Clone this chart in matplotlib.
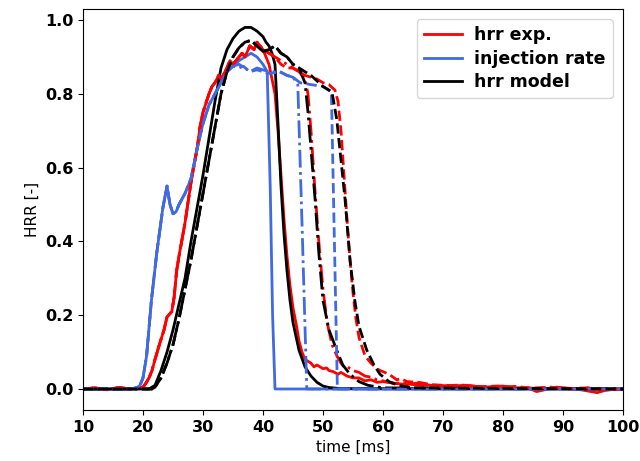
import matplotlib
matplotlib.use("Agg")
import matplotlib.pyplot as plt

# ---------------- data ----------------
# injection rate (blue) - shared rise
t_inj_rise = [10, 15, 18, 19, 19.5, 20, 20.6, 21.4, 22.3, 23.3, 24, 24.5, 25, 25.5, 26,
              27, 28, 29, 30, 31, 32, 33, 34, 35]
v_inj_rise = [0.0, 0.0, 0.0, 0.004, 0.01, 0.03, 0.09, 0.24, 0.37, 0.49, 0.55, 0.5, 0.475,
              0.48, 0.5, 0.53, 0.57, 0.65, 0.72, 0.77, 0.8, 0.83, 0.86, 0.875]
t_inj_end_1 = [36, 37, 38, 39, 40, 40.7, 41.2, 41.6, 42, 100]
v_inj_end_1 = [0.89, 0.9, 0.91, 0.9, 0.88, 0.86, 0.55, 0.2, 0.0, 0.0]
t_inj_end_2 = [36, 37, 37.8, 39, 40, 41, 42.8, 44, 45, 45.8, 46.5, 47.3, 100]
v_inj_end_2 = [0.88, 0.87, 0.86, 0.87, 0.865, 0.86, 0.86, 0.85, 0.845, 0.825, 0.45, 0.0, 0.0]
t_inj_end_3 = [36, 36.7, 37.8, 39, 40, 41, 42.8, 44, 45, 46.2, 48, 50, 51.4, 51.9, 52.4, 100]
v_inj_end_3 = [0.87, 0.875, 0.86, 0.865, 0.86, 0.855, 0.86, 0.85, 0.845, 0.83, 0.825, 0.82, 0.805, 0.4, 0.0, 0.0]

# hrr exp. (red) - shared rise
t_exp_rise = [10, 12, 14, 16, 18, 19, 20, 20.5, 21, 21.5, 22, 22.8, 23.5, 24, 24.8, 25.2,
              25.6, 26, 27, 28, 29, 29.5, 30, 31, 31.5, 32, 32.6, 33, 33.7, 34.5, 35, 36,
              36.5, 37, 37.8, 38.5, 39, 39.5, 40]
v_exp_rise = [0.0, 0.003, -0.002, 0.004, 0.0, 0.002, 0.005, 0.016, 0.03, 0.05, 0.08, 0.124,
              0.16, 0.195, 0.21, 0.25, 0.32, 0.36, 0.45, 0.56, 0.65, 0.71, 0.75, 0.8, 0.82,
              0.83, 0.85, 0.84, 0.86, 0.89, 0.88, 0.9, 0.91, 0.9, 0.93, 0.92, 0.94, 0.93, 0.92]
t_exp_end_1 = [41, 42, 42.5, 43, 43.5, 44, 44.5, 45, 45.6, 46, 46.5, 47, 47.5, 48, 48.5, 49,
               49.5, 50, 50.6, 51, 51.7, 52.5, 53, 54, 55, 56, 57, 58, 59, 60, 62, 64, 65.6,
               68, 71, 74, 76.7, 78, 80, 82, 84, 85.6, 87, 89, 91, 93.3, 95.7, 97, 99, 100]
v_exp_end_1 = [0.88, 0.8, 0.7, 0.58, 0.46, 0.36, 0.28, 0.22, 0.17, 0.13, 0.1, 0.08, 0.075,
               0.07, 0.06, 0.065, 0.06, 0.055, 0.057, 0.05, 0.047, 0.04, 0.045, 0.035, 0.03,
               0.03, 0.022, 0.025, 0.018, 0.02, 0.015, 0.012, 0.016, 0.01, 0.008, 0.01, 0.005,
               0.006, 0.008, 0.003, 0.004, -0.007, -0.002, 0.005, 0.002, -0.003, -0.01,
               -0.004, 0.0, -0.002]
t_exp_end_2 = [41, 42, 43, 44, 45, 46, 46.5, 47, 47.5, 48, 48.7, 49.3, 50, 50.7, 51.5, 52.3,
               53, 53.5, 54, 54.5, 55, 56, 57, 58, 59, 60, 61, 62, 63, 65, 67, 70, 73, 76,
               79, 82, 85, 88, 91, 94, 97, 100]
v_exp_end_2 = [0.91, 0.9, 0.89, 0.88, 0.87, 0.86, 0.85, 0.84, 0.8, 0.7, 0.53, 0.4, 0.27, 0.18,
               0.12, 0.09, 0.07, 0.06, 0.062, 0.055, 0.05, 0.045, 0.035, 0.032, 0.025, 0.022,
               0.018, 0.015, 0.017, 0.012, 0.01, 0.008, 0.011, 0.006, 0.004, 0.007, 0.002,
               0.004, 0.0, 0.003, -0.002, 0.0]
t_exp_end_3 = [41, 42, 43, 44, 45, 46, 47, 48, 49, 50, 51, 52, 52.5, 53, 53.5, 54, 54.5, 55,
               55.5, 56, 57, 58, 59, 59.5, 60, 61, 62.3, 63, 64, 66, 68, 70, 73, 76, 79, 82,
               85, 88, 91, 94, 97, 100]
v_exp_end_3 = [0.91, 0.9, 0.88, 0.87, 0.87, 0.86, 0.85, 0.845, 0.84, 0.83, 0.825, 0.81, 0.78,
               0.7, 0.58, 0.46, 0.35, 0.26, 0.19, 0.14, 0.09, 0.07, 0.055, 0.05, 0.047, 0.04,
               0.025, 0.028, 0.02, 0.018, 0.012, 0.01, 0.009, 0.006, 0.008, 0.004, 0.002,
               0.005, 0.001, 0.003, -0.001, 0.0]

# hrr model (black)
t_mod_1 = [10, 21, 22, 23, 24, 25, 26, 27, 28, 29, 30, 31, 32, 33, 34, 35, 36, 37, 38, 39,
           40, 40.5, 41, 41.5, 42, 42.5, 43, 43.5, 44, 44.5, 45, 46, 47, 48, 49, 50, 51, 53,
           100]
v_mod_1 = [0.0, 0.0, 0.01, 0.05, 0.1, 0.16, 0.23, 0.3, 0.4, 0.49, 0.58, 0.68, 0.78, 0.87,
           0.92, 0.95, 0.97, 0.98, 0.98, 0.97, 0.955, 0.94, 0.93, 0.91, 0.88, 0.72, 0.55,
           0.42, 0.32, 0.24, 0.18, 0.105, 0.06, 0.035, 0.018, 0.008, 0.004, 0.001, 0.0]
t_mod_rise = [10, 21.5, 22, 23, 24, 25, 26, 27, 28, 29, 30, 31, 32, 33, 34, 35, 36, 37, 38,
              39, 40, 41, 42, 43, 44, 45, 46]
v_mod_rise = [0.0, 0.0, 0.005, 0.03, 0.07, 0.12, 0.19, 0.27, 0.35, 0.44, 0.53, 0.62, 0.71,
              0.8, 0.86, 0.9, 0.925, 0.94, 0.945, 0.93, 0.915, 0.92, 0.93, 0.91, 0.9, 0.88,
              0.87]
t_mod_end_2 = [47, 47.5, 48, 48.7, 49.3, 50, 51, 52.3, 53.3, 54.5, 56, 57.5, 60, 100]
v_mod_end_2 = [0.83, 0.75, 0.65, 0.51, 0.37, 0.24, 0.16, 0.105, 0.065, 0.04, 0.02, 0.01,
               0.003, 0.0]
t_mod_end_3 = [47, 48, 49, 50, 51, 51.5, 52.3, 53, 53.7, 54.5, 55.3, 56, 57.3, 58.5, 59.5,
               61, 62.5, 65, 100]
v_mod_end_3 = [0.86, 0.85, 0.835, 0.82, 0.81, 0.805, 0.73, 0.62, 0.51, 0.35, 0.24, 0.17,
               0.105, 0.065, 0.04, 0.02, 0.01, 0.003, 0.0]

legend_labels = ["hrr exp.", "injection rate", "hrr model"]
x_ticks = [10, 20, 30, 40, 50, 60, 70, 80, 90, 100]
y_ticks = [0.0, 0.2, 0.4, 0.6, 0.8, 1.0]

# ---------------- plotting ----------------
RED = "#ff0000"
BLUE = "#4169e1"
BLACK = "#000000"
LW = 2.0

fig = plt.figure(figsize=(6.4, 4.61), dpi=100)
ax = fig.add_axes([0.1297, 0.1106, 0.9734 - 0.1297, 0.9805 - 0.1106])

cases = [
    ("-", t_exp_rise + t_exp_end_1, v_exp_rise + v_exp_end_1,
     t_inj_rise + t_inj_end_1, v_inj_rise + v_inj_end_1,
     t_mod_1, v_mod_1),
    ("-.", t_exp_rise + t_exp_end_2, v_exp_rise + v_exp_end_2,
     t_inj_rise + t_inj_end_2, v_inj_rise + v_inj_end_2,
     t_mod_rise + t_mod_end_2, v_mod_rise + v_mod_end_2),
    ("--", t_exp_rise + t_exp_end_3, v_exp_rise + v_exp_end_3,
     t_inj_rise + t_inj_end_3, v_inj_rise + v_inj_end_3,
     t_mod_rise + t_mod_end_3, v_mod_rise + v_mod_end_3),
]

for i, (ls, te, ve, ti, vi, tm, vm) in enumerate(cases):
    ax.plot(te, ve, color=RED, ls=ls, lw=LW, label=legend_labels[0] if i == 0 else None)
    ax.plot(ti, vi, color=BLUE, ls=ls, lw=LW, label=legend_labels[1] if i == 0 else None)
    ax.plot(tm, vm, color=BLACK, ls=ls, lw=LW, label=legend_labels[2] if i == 0 else None)

ax.set_xlim(10, 100)
ax.set_ylim(-0.057, 1.03)
ax.set_xticks(x_ticks)
ax.set_yticks(y_ticks)
ax.set_xticklabels([str(x) for x in x_ticks], fontsize=11.5, fontweight="bold")
ax.set_yticklabels([f"{y:.1f}" for y in y_ticks], fontsize=11.5, fontweight="bold")
ax.set_xlabel("time [ms]", fontsize=11)
ax.set_ylabel("HRR [-]", fontsize=11)
ax.legend(loc="upper right", prop={"weight": "bold", "size": 12.5},
          handlelength=2.2, handletextpad=0.7, labelspacing=0.32, borderpad=0.4,
          borderaxespad=0.6)

fig.savefig("out.png", dpi=100)
